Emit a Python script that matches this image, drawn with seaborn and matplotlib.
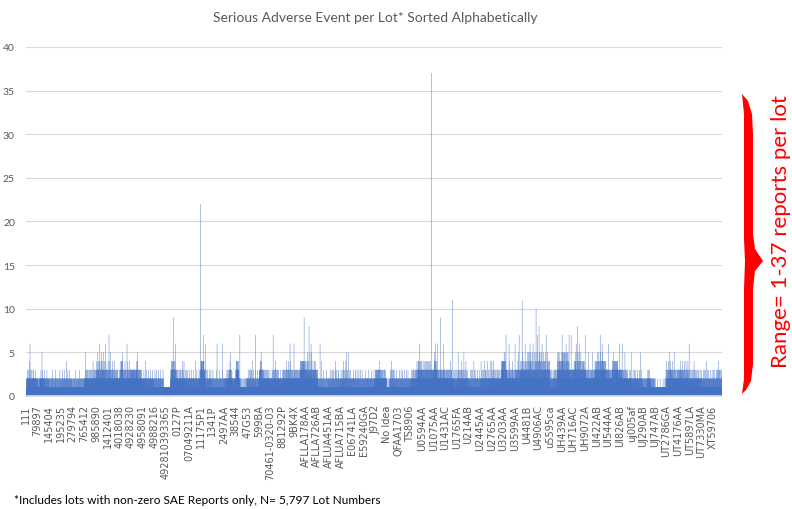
import numpy as np
import pandas as pd
import matplotlib
matplotlib.use("Agg")
import matplotlib.pyplot as plt
from matplotlib.patches import Polygon
import seaborn as sns

# Excel printed every 97th lot name on the x axis
LABEL_STEP = 97

tick_labels = [
    "111", "79897", "145404", "195235", "279794", "765412", "985890",
    "1412401", "4018038", "4928230", "4958091", "4988216", "492810393365",
    "0127P", "07049211A", "11175P1", "1341P", "2497AA", "38544", "47G53",
    "599BA", "70461-0320-03", "881292P", "9BK4X", "AFLLA178AA", "AFLLA726AB",
    "AFLUA451AA", "AFLUA715BA", "E06741LA", "E59240GA", "J97D2", "No Idea",
    "QFAA1703", "TS8906", "U0594AA", "U1075AA", "U1431AC", "U1765FA",
    "U214AB", "U2445AA", "U2765AA", "U3203AA", "U3599AA", "U4481B",
    "U4906AC", "u5595ca", "UH439AA", "UH716AC", "UH9072A", "UI422AB",
    "UI544AA", "UI826AB", "uj005af", "UJ290AB", "UJ747AB", "UT2786GA",
    "UT4176AA", "UT5897LA", "UT7330MA", "XT59706",
]

# SAE reports per lot (1-5), one digit per lot, one row per labelled block
base_rows = [
    "1121112212 2222322122 2232221224 2221232122 1212223212 2221212232 2122231222 1222122312 2212221221 2122212",
    "1121121112 1212112121 2222222322 2222125212 2232221222 1212212232 1121212121 2122112312 1212121221 1212211",
    "1211212112 1121121211 2112131211 2121121121 1211212112 1121312112 1211211212 1121121211 2112121131 1211212",
    "2112121121 1212131212 1121212112 3121121212 1121214121 2121121312 1212112121 1213121121 2112121211 2121121",
    "1121121112 1211211211 2113112112 1121121121 1211211212 1121112131 2112112112 1121211211 2112112121 1121211",
    "2212222152 2232222322 2223212232 2122322212 2232122223 2212232122 2322212232 2224222322 1223221232 2122322",
    "2323242232 3252323232 3243232422 3232423232 2323242253 2323232423 2322353232 4232232323 2324232232 3232232",
    "2322423222 3223222432 2232522322 2232232223 4222322322 2232222342 2223222322 1222322232 2232123222 2212221",
    "2232222322 2323432342 4324343253 2322322232 2223223242 2322322322 2232232223 3242232322 2232242322 2232322",
    "3232322332 2323223322 3232332232 2233232322 3223243232 3323242352 2232322232 2232322322 2322232322 1221222",
    "2122121222 1232122122 2121224212 2212231221 2122122122 2312122212 1221223122 2122121221 2132122121 2212212",
    "2121121312 1121212121 2131211212 1121212312 1211212121 1212131211 2121121212 1211312112 1111111111 1111111",
    "1111111111 1111111111 1111111111 1111111111 2232332423 3242343232 4323242332 2342323423 2232322322 2232232",
    "2212232212 2122321222 1232212232 2122122322 2212342212 2321242212 2212232122 1221232212 2122212322 1221221",
    "2121223212 2122122121 2321212212 1221221232 2121221212 2124212212 1212232121 2212122122 1223212222 2322322",
    "2343423434 3243342324 2343423433 2322232322 2122121312 1212212132 2121221212 1321212212 2122131212 1212212",
    "1212131212 1121212112 1211212121 2112131211 2121121212 1121121312 1211212112 2121121211 2131121212 1121212",
    "2121212212 1221212122 2122312212 2232222322 2223232232 4223252232 2322223222 1212221221 2122122121 2212122",
    "2323343423 3423432334 2343232322 2212121212 1111211111 2111111211 1111112111 1211111121 1111211112 1121212",
    "2121212312 1212123121 2121312121 2312121312 1214121212 1213212121 2121121212 3121212121 1212113121 2121212",
    "2232323232 2343234352 3242323232 2322232322 2232222322 1222322212 2232122322 2122322122 2322122212 2232212",
    "2212221221 2232122312 2212232212 2322312232 2124232212 2312232122 2322122312 2212221222 1221232122 2122122",
    "2232222322 2322232232 2122322222 3223242232 2232223222 3224232232 2322232242 2232322322 2222322322 2232222",
    "2232222322 2322232222 3222322232 2232222322 2223222322 3232342343 2434323432 4342334243 3423433242 3243342",
    "3232234232 3232432352 3232242322 3232325232 2323242323 3253232322 3242322323 2323323422 3223243223 2322322",
    "3232212121 1211212112 1211312112 1121212412 1121121211 2121131211 2112121121 1211212131 1211212112 1212112",
    "2121121212 1312121121 2121213121 1212312121 2131212121 1213121412 1212131212 1212121312 1213121212 1121212",
    "2121231212 1221312122 1213212412 1231221212 2131241212 1521231212 3122121512 1232121212 1212312121 2121212",
    "2121212121 2312121212 1212212131 2121121212 1312121221 2121212312 1212112121 3121212121 1213121212 1212121",
    "1212121212 2121121312 1212121212 1221212121 2131212121 1212121212 2121312121 1212121212 1212131221 2122121",
    "2322323222 3232232322 2232322322 3223242322 2232232223 2222322322 2232222322 1222322232 2232122212 2212221",
    "1111111211 1111121111 2121212312 1213121412 2132121213 1212312121 2121312121 2121213121 2212121212 1212121",
    "2121212131 1212121212 3121212121 2121312121 2121212131 2121212121 2131212121 2121121312 1212121212 1212121",
    "2121221212 2312232122 1223212232 1221232212 2322322122 2322342312 2323423432 3243232343 2432323243 2323432",
    "3232323234 2323232242 3232323234 2323232342 3223232432 3232234232 3243232324 2323232332 4232323223 3232323",
    "3233234353 4323343234 3234323232 3222322232 2232322232 2232223222 3232223232 2232222322 3223232223 2232322",
    "2232222322 3222322232 2232322232 2222322232 2232242232 2232322222 3222122312 2212232121 2213121221 2312122",
    "2212232212 5223221232 2122322122 3221232212 4232212232 2122232152 2212232122 3221242212 2322122312 2212222",
    "1212121212 2121312121 2121213121 2131212121 2121412131 2121212312 1212121212 2131212121 2121212131 2121212",
    "2122122412 2212321222 1232212232 2122142212 2312232122 2212232212 4221222312 2122321221 2212242212 2212321",
    "4212232212 2412232122 2122322122 2312232212 2122322122 3221222312 2122322122 2212232212 2343434343 4343434",
    "3234254323 4252343234 3233232322 2232322232 2232223222 3242232232 2232223222 3224232232 2223222322 2232224",
    "2323232232 3232232322 3234235223 2323232232 3323234323 3234323223 4253232343 3232343223 3234232343 3234323",
    "3242352323 3235243234 2323253243 3242532324 3234232353 2343232423 3253232324 3234235243 2323435232 3234243",
    "4323232524 3225343234 2323532243 3224323234 3523234343 2323435243 2323432323 3224532243 2323234243 3224323",
    "2121312121 2131212121 2121312122 2132123212 2123121312 1213212132 3234532343 2353234323 4523234234 3234532",
    "4232345234 5232354323 4523253232 4325232432 5234232453 2352342324 3233232323 3232323232 3233232323 2332323",
    "3323234323 4323234524 3234323234 3524323234 4323235243 2343234323 4253234323 3234323234 2343234323 3234323",
    "3323232322 2322322232 2322232252 2232222322 2232232222 3223222322 5222322322 2232222322 3234323432 3234323",
    "4323523243 3243234253 4323234323 3524323234 4323434253 3234323434 3234323243 3423234323 2323232322 3232323",
    "2322232232 2232232223 2232223222 3234323234 3234253234 3234323234 4323432343 4323234343 3232323232 2323232",
    "3232323223 2323232223 2222322322 2232222322 2522322232 1222322232 2232122212 2212221222 2232122232 2125222",
    "2122121222 1232122122 2121223212 2212232122 2122122122 2312122212 1221223122 2122521221 2132122121 2212112",
    "1211211212 1121121211 2112121121 2121221232 2122322122 2122312212 1221121211 2112121121 1211212112 1121211",
    "1111112111 1111111111 1111211111 1111111111 1112111111 1111111111 1111111121 1111111111 1112111111 2131412",
    "2232223222 3223222432 2232522322 3232342323 2232232223 4222322322 2232222352 2223222322 1222322232 2232232",
    "2322323222 3232232322 4232322322 3223242322 2232232223 2422322322 2232242322 1232322232 2432122232 2212321",
    "2122122322 2212321222 1232212232 2122142212 2312232122 2212232212 2221222312 2122321221 2212232212 2212321",
    "1212121212 2121312121 2121213121 2131212121 2121412131 2121212312 1212121212 2131212121 2121212131 2121212",
    "2121312121 2131212121 2121213122 2131212132 1213121412 2131213121 2131212132 1212",
]

# lots with 6 or more reports: position in the sorted list and count
peak_lots = [
    33, 614, 663, 691, 841, 1228, 1247, 1451, 1478, 1497, 1591, 1637, 1781,
    1910, 2058, 2199, 2232, 2316, 2357, 2374, 2449, 3279, 3378, 3412, 3427,
    3454, 3479, 3552, 3998, 4023, 4073, 4107, 4132, 4157, 4198, 4223, 4248,
    4261, 4273, 4298, 4332, 4465, 4498, 4523, 4540, 4582, 4594, 4607, 4657,
    4782, 4798, 4852, 4944, 4965, 5523,
]
peak_counts = [
    6, 6, 6, 7, 6, 9, 6, 22, 7, 6, 6, 6, 7,
    7, 7, 6, 6, 9, 8, 6, 6, 6, 37, 6, 6,
    9, 6, 11, 7, 6, 6, 7, 11, 6, 6, 6, 10,
    7, 8, 6, 7, 7, 6, 7, 7, 6, 8, 6, 7,
    7, 6, 6, 6, 6, 6,
]

BAR_BLUE = "#4472C4"
GREY_TEXT = "#595959"

counts = np.array([int(c) for c in "".join(base_rows).replace(" ", "")])
counts[peak_lots] = peak_counts
df = pd.DataFrame({"lot": np.arange(len(counts)), "reports": counts})

sns.set_theme(style="white")
plt.rcParams["font.family"] = ["Lato", "DejaVu Sans"]

fig = plt.figure(figsize=(7.92, 5.10), dpi=100)
ax = fig.add_axes([0.0328, 0.2216, 0.8788, 0.6843])

# bars are far thinner than a pixel; a little overlap keeps the base solid
sns.barplot(data=df, x="lot", y="reports", native_scale=True, width=3.5,
            color=BAR_BLUE, saturation=1, linewidth=0, errorbar=None, ax=ax)
for bar in ax.patches:
    bar.set_snap(False)

ax.set_xlim(-0.5, len(counts) - 0.5)
ax.set_ylim(0, 40)
ax.set_yticks(range(0, 41, 5))
ax.set_xticks(np.arange(len(tick_labels)) * LABEL_STEP)
ax.set_xticklabels(tick_labels, rotation=90, fontsize=7, color=GREY_TEXT,
                   family="DejaVu Sans")
ax.tick_params(axis="x", length=0, pad=6)
ax.tick_params(axis="y", length=0, labelsize=7.5, labelcolor=GREY_TEXT, pad=8)
ax.yaxis.grid(True, color="#d9d9d9", linewidth=0.8)
ax.set_axisbelow(True)
for side in ["left", "right", "top"]:
    ax.spines[side].set_visible(False)
ax.spines["bottom"].set_color("#d9d9d9")
ax.set_xlabel("")
ax.set_ylabel("")

fig.text(0.4735, 0.965, "Serious Adverse Event per Lot* Sorted Alphabetically",
         ha="center", va="center", fontsize=10, color=GREY_TEXT)
fig.text(0.0177, 0.0196,
         "*Includes lots with non-zero SAE Reports only, N= 5,797 Lot Numbers",
         ha="left", va="center", fontsize=8.6, color="black")

# red curly brace next to the plot, in figure pixels
brace_px = [(742, 95), (748, 102), (752, 115), (753, 135), (753, 235),
            (755, 250), (763, 262), (755, 272), (753, 290), (753, 365),
            (751, 382), (746, 391), (742, 395), (744, 380), (744, 290),
            (745, 262), (744, 240), (744, 115)]
brace = Polygon([(x / 792, 1 - y / 510) for x, y in brace_px], closed=True,
                transform=fig.transFigure, facecolor="#FF0000", edgecolor="none")
fig.patches.append(brace)
fig.text(0.986, 0.545, "Range= 1-37 reports per lot", rotation=90,
         ha="center", va="center", fontsize=16, color="#FF0000")

fig.savefig("out.png", dpi=100)
